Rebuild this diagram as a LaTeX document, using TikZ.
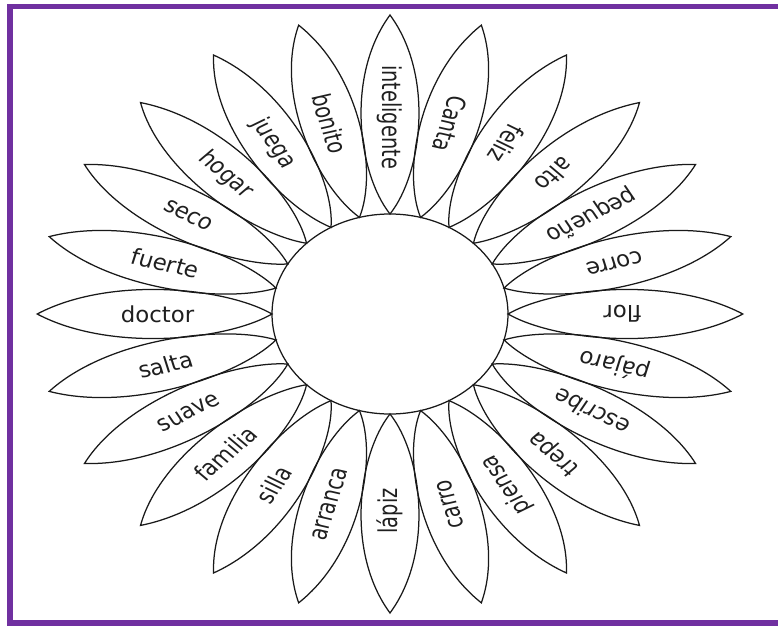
\documentclass[tikz,border=0pt]{standalone}
\usepackage{fontspec}
\setmainfont{DejaVu Sans}[FakeStretch=0.88]
\definecolor{bordpurple}{HTML}{7030A0}
\tikzset{
  petal/.style={draw=black!90, line width=1.25pt},
  word/.style={font=\fontsize{22}{24}\selectfont, text=black!88, inner sep=0pt},
  frame/.style={draw=bordpurple, line width=5.5pt}
}
\begin{document}
\begin{tikzpicture}[x=1pt,y=1pt]
\useasboundingbox (0,0) rectangle (778,625);
\fill[white] (0,0) rectangle (778,625);
\draw[frame] (9.8,1.8) rectangle (800,618.3);
\begin{scope}[shift={(390,311)}, xscale=1.18, transform shape]
\foreach \a/\w [count=\i] in {90/inteligente, 75/Canta, 60/feliz, 45/alto, 30/pequeño, 15/corre, 0/flor, -15/pájaro, -30/escribe, -45/trepa, -60/piensa, -75/carro, -90/lápiz, -105/arranca, -120/silla, -135/familia, -150/suave, -165/salta, 180/doctor, 165/fuerte, 150/seco, 135/hogar, 120/juega, 105/bonito} {
  \draw[petal, rotate=\a] (100,0) .. controls (140,27) and (238,38) .. (299,0) .. controls (238,-38) and (140,-27) .. (100,0) -- cycle;
  \node[word, rotate=\a+180] (w\i) at (\a:197) {\w};
}
\draw[petal] (0,0) circle (100pt);
\end{scope}
\end{tikzpicture}
\end{document}
